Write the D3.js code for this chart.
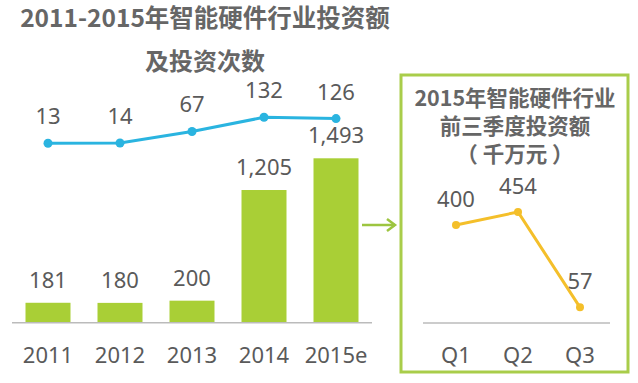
<!DOCTYPE html>
<html>
<head>
<meta charset="utf-8">
<script src="https://cdn.jsdelivr.net/npm/d3@7"></script>
<style>
  body { margin: 0; background: #fff; }
  text { font-family: "Noto Sans", "Noto Sans CJK SC", sans-serif; }
</style>
</head>
<body>
<div id="chart"></div>
<script>
// data
var years = ["2011", "2012", "2013", "2014", "2015e"];
var amounts = [181, 180, 200, 1205, 1493];      // 投资额 (bars)
var counts = [13, 14, 67, 132, 126];            // 投资次数 (line)
var quarters = ["Q1", "Q2", "Q3"];
var quarterAmounts = [400, 454, 57];            // 2015 前三季度 (千万元)

var width = 638, height = 383;
var green = "#a9cf36", blue = "#2ab4e0", gold = "#f4bf2a", grey = "#5a5a5a";

var svg = d3.select("#chart").append("svg")
    .attr("width", width)
    .attr("height", height);

// titles
var cjk = '"Noto Sans CJK SC", sans-serif';
svg.append("text").attr("x", 205).attr("y", 27)
    .attr("text-anchor", "middle").style("font-family", cjk)
    .style("font-size", "24.5px").style("font-weight", "bold").attr("fill", "#666")
    .text("2011-2015年智能硬件行业投资额");
svg.append("text").attr("x", 205).attr("y", 70)
    .attr("text-anchor", "middle").style("font-family", cjk)
    .style("font-size", "24px").style("font-weight", "bold").attr("fill", "#666")
    .text("及投资次数");

// left chart
var x = d3.scaleBand().domain(years).range([12, 372])
    .paddingInner(0.375).paddingOuter(0.1875);
var yBar = d3.scaleLinear().domain([0, 1493]).range([322.7, 158.3]);
var yLine = d3.scaleLinear().domain([0, 132]).range([146.1, 117.3]);

svg.selectAll(".bar")
    .data(amounts)
    .enter().append("rect")
    .attr("class", "bar")
    .attr("x", function (d, i) { return x(years[i]); })
    .attr("y", function (d) { return yBar(d); })
    .attr("width", x.bandwidth())
    .attr("height", function (d) { return yBar(0) - yBar(d); })
    .attr("fill", green);

svg.selectAll(".barLabel")
    .data(amounts)
    .enter().append("text")
    .attr("x", function (d, i) { return x(years[i]) + x.bandwidth() / 2; })
    .attr("y", function (d) { return yBar(d) - 15; })
    .attr("text-anchor", "middle")
    .style("font-size", "22px")
    .attr("fill", grey)
    .text(function (d) { return d3.format(",")(d); });

// baseline
svg.append("line")
    .attr("x1", 12).attr("x2", 372)
    .attr("y1", yBar(0)).attr("y2", yBar(0))
    .attr("stroke", "#bbb").attr("stroke-width", 1.5);

svg.selectAll(".yearLabel")
    .data(years)
    .enter().append("text")
    .attr("x", function (d) { return x(d) + x.bandwidth() / 2; })
    .attr("y", 363)
    .attr("text-anchor", "middle")
    .style("font-size", "22px")
    .attr("fill", grey)
    .text(function (d) { return d; });

var line = d3.line()
    .x(function (d, i) { return x(years[i]) + x.bandwidth() / 2; })
    .y(function (d) { return yLine(d); });

svg.append("path")
    .datum(counts)
    .attr("d", line)
    .attr("fill", "none")
    .attr("stroke", blue)
    .attr("stroke-width", 3);

svg.selectAll(".dot")
    .data(counts)
    .enter().append("circle")
    .attr("cx", function (d, i) { return x(years[i]) + x.bandwidth() / 2; })
    .attr("cy", function (d) { return yLine(d); })
    .attr("r", 4.5)
    .attr("fill", blue);

svg.selectAll(".countLabel")
    .data(counts)
    .enter().append("text")
    .attr("x", function (d, i) { return x(years[i]) + x.bandwidth() / 2; })
    .attr("y", function (d) { return yLine(d) - 19; })
    .attr("text-anchor", "middle")
    .style("font-size", "22px")
    .attr("fill", grey)
    .text(function (d) { return d; });

// arrow to the inset
svg.append("line")
    .attr("x1", 362).attr("x2", 395).attr("y1", 225).attr("y2", 225)
    .attr("stroke", "#9dc540").attr("stroke-width", 2.5);
svg.append("path")
    .attr("d", "M387,219 L395,225 L387,231")
    .attr("fill", "none").attr("stroke", "#9dc540").attr("stroke-width", 2.5);

// inset box
svg.append("rect")
    .attr("x", 401).attr("y", 75).attr("width", 227).attr("height", 297)
    .attr("fill", "none").attr("stroke", "#a9cd4a").attr("stroke-width", 3);

var insetTitle = ["2015年智能硬件行业", "前三季度投资额", "（ 千万元 ）"];
svg.selectAll(".insetTitle")
    .data(insetTitle)
    .enter().append("text")
    .attr("x", 515)
    .attr("y", function (d, i) { return 106 + i * 28; })
    .attr("text-anchor", "middle")
    .style("font-family", cjk)
    .style("font-size", "21.5px")
    .style("font-weight", "bold")
    .attr("fill", "#666")
    .text(function (d) { return d; });

// inset chart
var xq = d3.scalePoint().domain(quarters).range([456, 580]);
var yq = d3.scaleLinear().domain([0, 454]).range([321, 212]);

svg.append("line")
    .attr("x1", 423).attr("x2", 610)
    .attr("y1", 323).attr("y2", 323)
    .attr("stroke", "#bbb").attr("stroke-width", 1.5);

var qline = d3.line()
    .x(function (d, i) { return xq(quarters[i]); })
    .y(function (d) { return yq(d); });

svg.append("path")
    .datum(quarterAmounts)
    .attr("d", qline)
    .attr("fill", "none")
    .attr("stroke", gold)
    .attr("stroke-width", 3);

svg.selectAll(".qdot")
    .data(quarterAmounts)
    .enter().append("circle")
    .attr("cx", function (d, i) { return xq(quarters[i]); })
    .attr("cy", function (d) { return yq(d); })
    .attr("r", 4)
    .attr("fill", gold);

svg.selectAll(".qLabel")
    .data(quarterAmounts)
    .enter().append("text")
    .attr("x", function (d, i) { return xq(quarters[i]); })
    .attr("y", function (d) { return yq(d) - 18; })
    .attr("text-anchor", "middle")
    .style("font-size", "22px")
    .attr("fill", grey)
    .text(function (d) { return d; });

svg.selectAll(".quarterLabel")
    .data(quarters)
    .enter().append("text")
    .attr("x", function (d) { return xq(d); })
    .attr("y", 363)
    .attr("text-anchor", "middle")
    .style("font-size", "22px")
    .attr("fill", grey)
    .text(function (d) { return d; });
</script>
</body>
</html>
